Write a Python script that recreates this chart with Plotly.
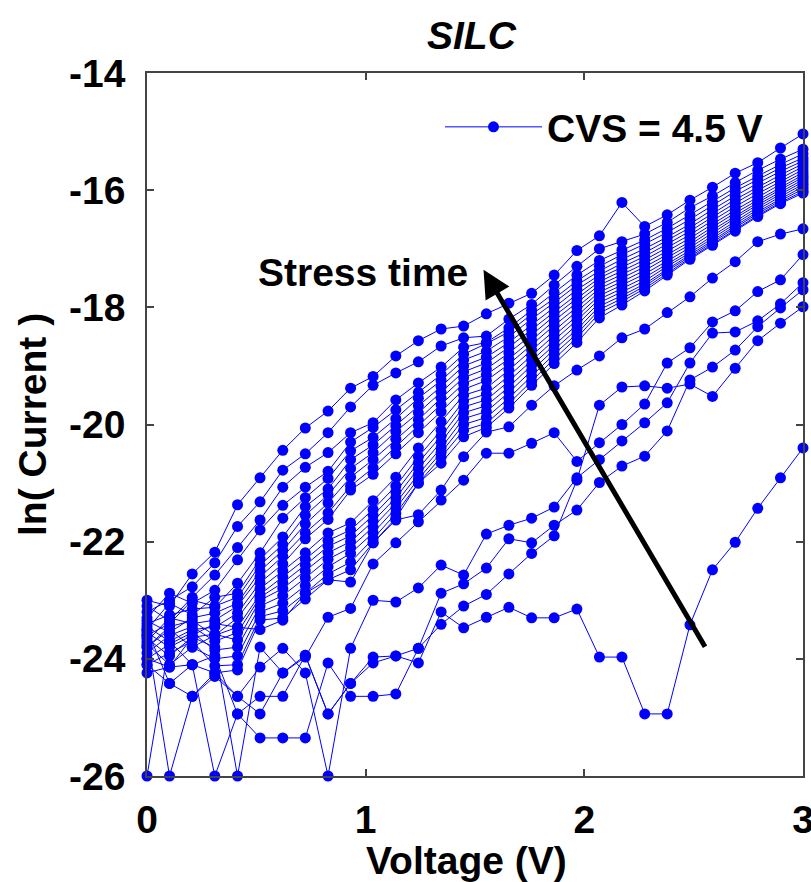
import plotly.graph_objects as go

voltage = [0.0, 0.103, 0.207, 0.31, 0.414, 0.517, 0.621, 0.724, 0.828, 0.931,
           1.034, 1.138, 1.241, 1.345, 1.448, 1.552, 1.655, 1.759, 1.862, 1.966,
           2.069, 2.172, 2.276, 2.379, 2.483, 2.586, 2.69, 2.793, 2.897, 3.0]

# ln(current) curves, one per stress time (latest first)
t00 = [-23.00, -23.10, -22.55, -22.18, -21.37, -20.91, -20.44, -20.06, -19.77, -19.38, -19.18, -18.83, -18.57, -18.37, -18.32, -18.11, -17.93, -17.76, -17.45, -17.03, -16.78, -16.21, -16.62, -16.42, -16.17, -15.95, -15.71, -15.53, -15.28, -15.04]
t01 = [-23.20, -23.00, -22.77, -22.36, -21.74, -21.32, -20.78, -20.50, -20.14, -19.70, -19.33, -19.12, -18.93, -18.66, -18.52, -18.49, -18.20, -17.95, -17.62, -17.30, -17.00, -16.88, -16.75, -16.55, -16.30, -16.10, -15.87, -15.66, -15.47, -15.30]
t02 = [-23.10, -23.35, -22.95, -22.57, -22.10, -21.63, -21.07, -20.73, -20.48, -20.14, -19.97, -19.58, -19.29, -19.02, -18.68, -18.60, -18.35, -18.05, -17.75, -17.45, -17.20, -17.02, -16.85, -16.65, -16.42, -16.20, -15.96, -15.76, -15.56, -15.38]
t03 = [-23.30, -22.88, -23.05, -22.83, -22.31, -21.80, -21.38, -21.07, -20.80, -20.30, -20.05, -19.75, -19.45, -19.15, -18.80, -18.62, -18.42, -18.12, -17.85, -17.55, -17.30, -17.10, -16.92, -16.72, -16.50, -16.26, -16.02, -15.82, -15.62, -15.45]
t04 = [-23.40, -23.25, -23.15, -23.12, -22.71, -22.19, -21.60, -21.25, -20.92, -20.45, -20.22, -19.90, -19.55, -19.25, -18.90, -18.75, -18.50, -18.20, -17.92, -17.62, -17.38, -17.18, -17.00, -16.80, -16.58, -16.33, -16.10, -15.88, -15.68, -15.50]
t05 = [-23.50, -23.05, -23.25, -22.95, -22.88, -22.30, -21.92, -21.40, -21.10, -20.60, -20.35, -20.02, -19.68, -19.35, -19.00, -18.85, -18.60, -18.30, -18.00, -17.70, -17.45, -17.25, -17.07, -16.86, -16.64, -16.40, -16.16, -15.95, -15.74, -15.55]
t06 = [-23.60, -23.40, -23.00, -23.10, -22.95, -22.40, -22.05, -21.55, -21.20, -20.75, -20.48, -20.12, -19.80, -19.45, -19.10, -18.95, -18.68, -18.38, -18.08, -17.78, -17.50, -17.32, -17.13, -16.92, -16.70, -16.46, -16.22, -16.00, -15.80, -15.60]
t07 = [-23.35, -23.55, -23.30, -23.22, -23.05, -22.50, -22.15, -21.70, -21.34, -20.90, -20.60, -20.25, -19.92, -19.55, -19.20, -19.05, -18.78, -18.47, -18.15, -17.85, -17.56, -17.38, -17.19, -16.98, -16.76, -16.52, -16.28, -16.06, -15.85, -15.65]
t08 = [-23.70, -23.30, -23.40, -23.34, -23.10, -22.60, -22.25, -21.85, -21.51, -21.05, -20.74, -20.38, -20.02, -19.66, -19.30, -19.15, -18.88, -18.56, -18.23, -17.92, -17.62, -17.44, -17.25, -17.04, -16.82, -16.58, -16.34, -16.12, -15.90, -15.70]
t09 = [-23.45, -23.70, -23.50, -23.46, -23.22, -22.70, -22.38, -21.95, -21.62, -21.12, -20.85, -20.50, -20.14, -19.78, -19.40, -19.25, -18.97, -18.64, -18.31, -18.00, -17.68, -17.50, -17.31, -17.10, -16.88, -16.63, -16.39, -16.17, -15.95, -15.74]
t10 = [-23.80, -23.45, -23.35, -23.60, -23.30, -22.80, -22.50, -22.19, -21.85, -21.68, -21.30, -20.90, -20.40, -19.95, -19.50, -19.38, -19.07, -18.73, -18.40, -18.08, -17.74, -17.56, -17.37, -17.15, -16.93, -16.68, -16.44, -16.21, -15.99, -15.78]
t11 = [-23.55, -23.80, -23.60, -23.40, -23.46, -22.90, -22.60, -22.30, -21.98, -21.80, -21.45, -21.05, -20.55, -20.10, -19.60, -19.48, -19.17, -18.82, -18.48, -18.15, -17.80, -17.62, -17.43, -17.21, -16.98, -16.73, -16.48, -16.25, -16.03, -15.82]
t12 = [-23.90, -23.60, -23.45, -23.70, -23.55, -22.95, -22.70, -22.40, -22.08, -21.90, -21.55, -21.15, -20.65, -20.20, -19.70, -19.58, -19.26, -18.90, -18.56, -18.22, -17.86, -17.68, -17.49, -17.26, -17.03, -16.78, -16.53, -16.29, -16.07, -15.86]
t13 = [-23.65, -23.95, -23.63, -23.58, -23.68, -23.00, -22.80, -22.50, -22.19, -22.00, -21.65, -21.25, -20.75, -20.30, -19.80, -19.68, -19.36, -18.99, -18.64, -18.30, -17.92, -17.74, -17.55, -17.30, -17.07, -16.82, -16.57, -16.33, -16.11, -15.90]
t14 = [-24.00, -23.75, -23.55, -23.85, -23.80, -23.10, -22.92, -22.62, -22.30, -22.10, -21.75, -21.34, -20.85, -20.40, -19.90, -19.78, -19.45, -19.08, -18.72, -18.38, -17.98, -17.80, -17.60, -17.35, -17.11, -16.86, -16.61, -16.37, -16.15, -15.94]
t15 = [-23.75, -24.10, -23.80, -24.00, -23.95, -23.20, -23.05, -22.75, -22.43, -22.20, -21.85, -21.43, -20.93, -20.48, -20.00, -19.88, -19.55, -19.17, -18.80, -18.45, -18.04, -17.85, -17.64, -17.38, -17.14, -16.89, -16.64, -16.40, -16.18, -15.98]
t16 = [-24.10, -23.90, -23.70, -24.12, -24.10, -23.28, -23.18, -22.88, -22.55, -22.35, -21.95, -21.52, -21.00, -20.56, -20.10, -19.98, -19.64, -19.26, -18.88, -18.52, -18.10, -17.90, -17.68, -17.42, -17.16, -16.92, -16.67, -16.43, -16.21, -16.02]
t17 = [-24.24, -24.14, -24.10, -24.24, -24.19, -23.34, -23.30, -22.98, -22.65, -22.48, -22.02, -21.60, -21.00, -20.66, -20.21, -20.05, -19.72, -19.33, -18.96, -18.60, -18.18, -17.96, -17.72, -17.45, -17.18, -16.94, -16.70, -16.45, -16.23, -16.05]
b1 = [-23.80, -23.50, -23.80, -23.60, -23.46, -23.50, -23.34, -22.88, -22.65, -22.69, -22.02, -21.63, -21.54, -21.12, -20.55, -20.13, -20.04, -19.67, -19.34, -19.07, -18.83, -18.52, -18.37, -18.09, -17.82, -17.50, -17.22, -16.88, -16.75, -16.66]
b2 = [-24.00, -24.14, -23.63, -23.80, -26.00, -23.80, -24.24, -23.97, -23.29, -23.14, -22.38, -22.02, -21.66, -21.29, -20.95, -20.49, -20.49, -20.32, -20.14, -20.63, -20.31, -20.00, -19.65, -18.95, -18.69, -18.25, -18.06, -17.73, -17.53, -17.10]
b3 = [-24.10, -24.42, -24.64, -24.24, -24.64, -24.14, -23.82, -24.24, -26.00, -23.82, -23.00, -23.03, -22.79, -22.40, -22.57, -21.87, -21.72, -21.60, -21.41, -20.91, -20.60, -20.28, -19.97, -19.63, -18.95, -18.44, -18.42, -18.23, -17.94, -17.58]
b4 = [-26.00, -23.70, -24.10, -23.95, -24.94, -24.64, -24.64, -23.94, -24.94, -24.42, -23.97, -23.95, -23.82, -22.88, -22.72, -22.45, -21.95, -22.02, -21.72, -21.46, -20.99, -20.71, -20.54, -20.11, -19.24, -19.02, -18.73, -18.33, -18.01, -17.70]
b5 = [-23.50, -24.42, -24.10, -26.00, -24.94, -25.35, -25.35, -25.35, -24.07, -24.64, -24.64, -24.60, -23.82, -23.41, -23.10, -22.90, -22.55, -22.20, -21.90, -20.95, -19.67, -19.36, -19.34, -19.38, -19.31, -19.52, -19.04, -18.57, -18.27, -17.99]
c1 = [-23.60, -26.00, -24.64, -24.30, -24.64, -24.94, -24.24, -23.94, -24.94, -24.42, -24.07, -23.95, -24.07, -23.20, -23.47, -23.29, -23.12, -23.30, -23.30, -23.15, -23.97, -23.97, -24.94, -24.94, -23.42, -22.48, -22.01, -21.43, -20.91, -20.40]

curves = [t00, t01, t02, t03, t04, t05, t06, t07, t08, t09, t10, t11, t12,
          t13, t14, t15, t16, t17, b1, b2, b3, b4, b5, c1]

x_tick_vals = [0, 1, 2, 3]
x_tick_text = ["0", "1", "2", "3"]
y_tick_vals = [-26, -24, -22, -20, -18, -16, -14]
y_tick_text = ["-26", "-24", "-22", "-20", "-18", "-16", "-14"]

legend_label = "CVS = 4.5 V"
arrow_tail = (2.556, -23.82)
arrow_head = (1.539, -17.36)
arrow_label = "Stress time"
arrow_label_pos = (0.99, -17.41)

BLUE = "#0000FF"
FONT = "Liberation Sans"
FS = 39

fig = go.Figure()
for i, ys in enumerate(reversed(curves)):
    fig.add_trace(go.Scatter(
        x=voltage, y=ys, mode="lines+markers",
        line=dict(color=BLUE, width=1),
        marker=dict(color=BLUE, size=11, line=dict(width=0)),
        name=legend_label, showlegend=(i == 0), cliponaxis=False,
    ))

axis_common = dict(
    showline=True, linecolor="#444444", linewidth=1.5, mirror="ticks",
    ticks="inside", ticklen=7, tickcolor="#444444", tickwidth=1.5,
    showgrid=False, zeroline=False, ticklabeloverflow="allow",
    tickfont=dict(family=FONT, size=FS, color="black", weight="bold"),
)

fig.update_xaxes(range=[0, 3], tickvals=x_tick_vals, ticktext=x_tick_text,
                 ticklabelstandoff=8, **axis_common)
fig.update_yaxes(range=[-26, -14], tickvals=y_tick_vals, ticktext=y_tick_text,
                 ticklabelstandoff=12, **axis_common)

fig.add_annotation(
    x=arrow_head[0], y=arrow_head[1], ax=arrow_tail[0], ay=arrow_tail[1],
    xref="x", yref="y", axref="x", ayref="y", text="", showarrow=True,
    arrowhead=2, arrowsize=1.1, arrowwidth=5, arrowcolor="black",
)
fig.add_annotation(
    x=arrow_label_pos[0], y=arrow_label_pos[1], xref="x", yref="y",
    text=arrow_label, showarrow=False, xanchor="center", yanchor="middle",
    font=dict(family=FONT, size=FS, color="black", weight="bold"),
)
fig.add_annotation(
    x=(472 - 147) / 656, y=(776 - 35) / 703, xref="paper", yref="paper",
    text="SILC", showarrow=False, xanchor="center", yanchor="middle",
    font=dict(family=FONT, size=FS, color="black", weight="bold", style="italic"),
)
fig.add_annotation(
    x=(466 - 147) / 656, y=(776 - 860) / 703, xref="paper", yref="paper",
    text="Voltage (V)", showarrow=False, xanchor="center", yanchor="middle",
    font=dict(family=FONT, size=FS, color="black", weight="bold"),
)
fig.add_annotation(
    x=(32 - 147) / 656, y=(776 - 425) / 703, xref="paper", yref="paper",
    text="ln( Current )", showarrow=False, textangle=-90,
    xanchor="center", yanchor="middle",
    font=dict(family=FONT, size=FS, color="black", weight="bold"),
)

fig.update_layout(
    width=811, height=882,
    margin=dict(l=147, r=8, t=73, b=106, autoexpand=False),
    plot_bgcolor="white", paper_bgcolor="white",
    showlegend=True,
    legend=dict(
        x=(440 - 147) / 656, y=(776 - 127) / 703, xanchor="left", yanchor="middle",
        bgcolor="rgba(0,0,0,0)", borderwidth=0, itemwidth=97,
        font=dict(family=FONT, size=FS, color="black", weight="bold"),
    ),
)

fig.write_html("out.html")
